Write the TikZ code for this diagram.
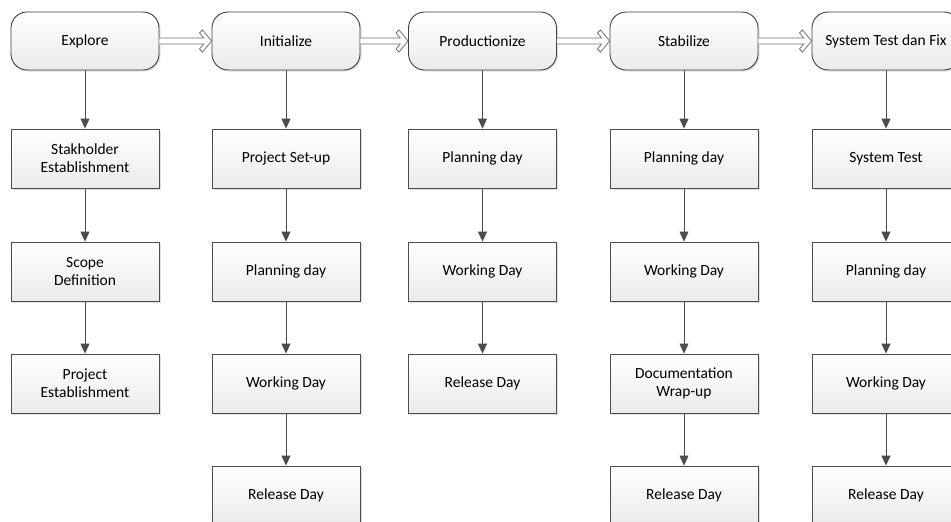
\documentclass[tikz,border=0pt]{standalone}
\usepackage{fontspec}
\setmainfont{Carlito}
\usetikzlibrary{arrows.meta,shadows,calc}
\begin{document}
\begin{tikzpicture}[x=1pt,y=-1pt,
  phase/.style={draw=black!75, line width=0.9pt, rounded corners=16pt, minimum width=148pt, minimum height=58pt,
    top color=white, bottom color=black!8, drop shadow={shadow xshift=1.5pt, shadow yshift=-1.5pt, opacity=0.25},
    font=\fontsize{15.5}{18}\selectfont, align=center, inner sep=2pt},
  task/.style={draw=black!70, line width=0.8pt, minimum width=148pt, minimum height=59pt,
    top color=white, bottom color=black!8, drop shadow={shadow xshift=1.5pt, shadow yshift=-1.5pt, opacity=0.25},
    font=\fontsize{15.5}{18}\selectfont, align=center, inner sep=2pt},
  down/.style={draw=black!70, line width=0.9pt, -{Triangle[length=10pt,width=9pt]}},
  flow/.style={draw=black!55, line width=0.8pt, fill=white, line join=miter,
    to path={let \p1=(\tikztostart.east), \p2=(\tikztotarget.west) in
      (\x1,{\y1+3pt}) -- ({\x2-7.9pt},{\y1+3pt}) -- ({\x2-12pt},{\y1+8pt}) -- ({\x2-9pt},{\y1+11pt})
      -- (\x2,\y1) -- ({\x2-9pt},{\y1-11pt}) -- ({\x2-12pt},{\y1-8pt}) -- ({\x2-7.9pt},{\y1-3pt})
      -- (\x1,{\y1-3pt})}},
]
\useasboundingbox (0,0) rectangle (951,522);
\fill[white] (0,0) rectangle (951,522);
% phases
\node[phase] (p1) at (85,41) {Explore};
\node[phase] (p2) at (286,41) {Initialize};
\node[phase] (p3) at (482.5,41) {Productionize};
\node[phase] (p4) at (684,41) {Stabilize};
\node[phase] (p5) at (886,41) {System Test dan Fix};
% column 1
\node[task] (a1) at (85,158.5) {Stakholder\\Establishment};
\node[task] (a2) at (85,271.5) {Scope\\Definition};
\node[task] (a3) at (85,383.5) {Project\\Establishment};
% column 2
\node[task] (b1) at (286,158.5) {Project Set-up};
\node[task] (b2) at (286,271.5) {Planning day};
\node[task] (b3) at (286,383.5) {Working Day};
\node[task] (b4) at (286,495.5) {Release Day};
% column 3
\node[task] (c1) at (482.5,158.5) {Planning day};
\node[task] (c2) at (482.5,271.5) {Working Day};
\node[task] (c3) at (482.5,383.5) {Release Day};
% column 4
\node[task] (d1) at (684,158.5) {Planning day};
\node[task] (d2) at (684,271.5) {Working Day};
\node[task] (d3) at (684,383.5) {Documentation\\Wrap-up};
\node[task] (d4) at (684,495.5) {Release Day};
% column 5
\node[task] (e1) at (886,158.5) {System Test};
\node[task] (e2) at (886,271.5) {Planning day};
\node[task] (e3) at (886,383.5) {Working Day};
\node[task] (e4) at (886,495.5) {Release Day};
% flow arrows
\draw[flow] (p1) to (p2);
\draw[flow] (p2) to (p3);
\draw[flow] (p3) to (p4);
\draw[flow] (p4) to (p5);
% down arrows
\draw[down] (p1) -- (a1);
\draw[down] (a1) -- (a2);
\draw[down] (a2) -- (a3);
\draw[down] (p2) -- (b1);
\draw[down] (b1) -- (b2);
\draw[down] (b2) -- (b3);
\draw[down] (b3) -- (b4);
\draw[down] (p3) -- (c1);
\draw[down] (c1) -- (c2);
\draw[down] (c2) -- (c3);
\draw[down] (p4) -- (d1);
\draw[down] (d1) -- (d2);
\draw[down] (d2) -- (d3);
\draw[down] (d3) -- (d4);
\draw[down] (p5) -- (e1);
\draw[down] (e1) -- (e2);
\draw[down] (e2) -- (e3);
\draw[down] (e3) -- (e4);
\end{tikzpicture}
\end{document}
